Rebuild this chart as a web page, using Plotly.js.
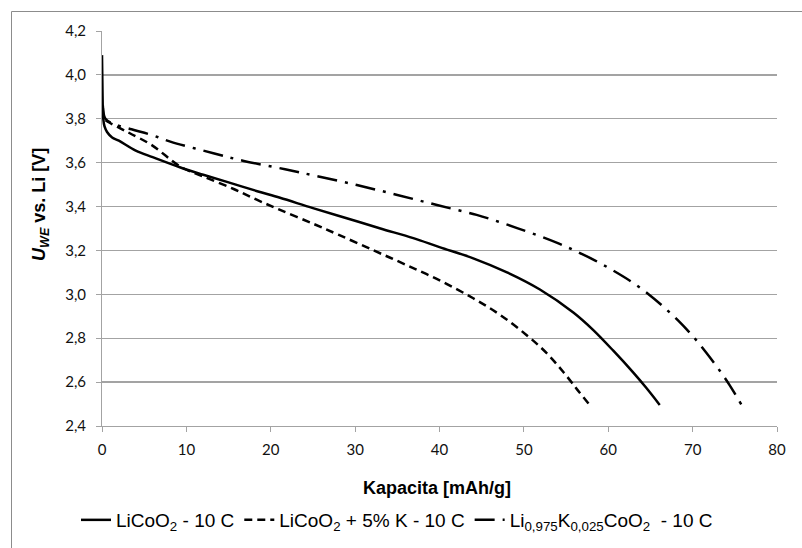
<!DOCTYPE html>
<html>
<head>
<meta charset="utf-8">
<script src="https://cdn.plot.ly/plotly-3.0.1.min.js"></script>
<style>
html,body{margin:0;padding:0;background:#fff;}
#chart{width:802px;height:548px;}
</style>
</head>
<body>
<div id="chart"></div>
<script>
// Series names
const seriesNames = [
  "LiCoO<sub>2</sub> - 10 C",
  "LiCoO<sub>2</sub> + 5% K - 10 C",
  "Li<sub>0,975</sub>K<sub>0,025</sub>CoO<sub>2</sub>  - 10 C"
];

// LiCoO2 - 10 C
const capA = [0, 0.05, 0.15, 0.3, 0.6, 1.2, 2, 4, 6, 9.3, 12, 15, 18.4, 21.1, 25, 29, 33, 36.9, 40, 44, 48, 51.9, 55.9, 58.2, 60.6, 63, 64.5, 66.1];
const voltA = [4.09, 3.95, 3.80, 3.765, 3.74, 3.715, 3.70, 3.655, 3.625, 3.578, 3.545, 3.51, 3.47, 3.44, 3.393, 3.347, 3.30, 3.256, 3.215, 3.164, 3.100, 3.022, 2.916, 2.838, 2.743, 2.642, 2.574, 2.496];

// LiCoO2 + 5% K - 10 C
const capB = [0.1, 0.3, 0.75, 2, 3.3, 5.9, 9.3, 12, 15.6, 18.4, 21.1, 25, 28, 32.2, 36, 40.1, 44, 47.2, 50.3, 52.7, 54.7, 56.3, 57.8];
const voltB = [3.85, 3.80, 3.785, 3.76, 3.734, 3.68, 3.582, 3.537, 3.48, 3.43, 3.385, 3.322, 3.272, 3.20, 3.135, 3.062, 2.982, 2.906, 2.815, 2.732, 2.645, 2.567, 2.496];

// Li0,975K0,025CoO2 - 10 C
const capC = [0.1, 0.4, 1.5, 3.5, 5.9, 8.1, 13.2, 16.8, 21.7, 25.3, 30.2, 35, 39.7, 44.4, 47, 49.2, 51.7, 54.1, 56.1, 58.4, 60.6, 62.8, 64.7, 66.5, 68.3, 70.1, 71.6, 73.2, 74.4, 75.8];
const voltC = [3.86, 3.80, 3.775, 3.752, 3.726, 3.696, 3.643, 3.608, 3.57, 3.54, 3.498, 3.453, 3.407, 3.362, 3.331, 3.302, 3.268, 3.232, 3.198, 3.155, 3.108, 3.056, 3.003, 2.945, 2.880, 2.806, 2.735, 2.653, 2.585, 2.496];

const xTickVals = [0, 10, 20, 30, 40, 50, 60, 70, 80];
const yTickVals = [2.4, 2.6, 2.8, 3.0, 3.2, 3.4, 3.6, 3.8, 4.0, 4.2];

const xTitle = "Kapacita [mAh/g]";
const yTitle = "<i>U</i><sub><i>WE</i></sub> vs. Li [V]";

const grid = "#a3a3a3";
const tickFont = {family: "Lato, 'Open Sans', sans-serif", size: 15, color: "#111"};
const titleFont = {family: "'Liberation Sans', Arial, sans-serif", size: 18, color: "#000"};

const lineCommon = {color: "#000", width: 2.5, shape: "spline", smoothing: 1};
const traces = [
  {x: capA, y: voltA, name: seriesNames[0], mode: "lines",
   line: Object.assign({}, lineCommon)},
  {x: capB, y: voltB, name: seriesNames[1], mode: "lines",
   line: Object.assign({}, lineCommon, {dash: "8px,5px"})},
  {x: capC, y: voltC, name: seriesNames[2], mode: "lines",
   line: Object.assign({}, lineCommon, {dash: "20px,8px,3px,8px"})}
];

// plot area: x 102..777, y 31..426
const L = 102, R = 777, T = 31, B = 426;
const pw = R - L, ph = B - T;
const px = v => (v - L) / pw;
const py = v => (B - v) / ph;

const layout = {
  width: 802, height: 548,
  margin: {l: L, r: 802 - R, t: T, b: 548 - B, pad: 0},
  paper_bgcolor: "#fff", plot_bgcolor: "#fff",
  separators: ", ",
  showlegend: true,
  font: {family: "'Liberation Sans', Arial, sans-serif", color: "#000"},
  xaxis: {
    range: [0, 80], tickvals: xTickVals, ticktext: xTickVals.map(String),
    showgrid: false, zeroline: false,
    showline: true, linecolor: grid, linewidth: 1,
    ticks: "outside", ticklen: 5, tickcolor: grid, tickwidth: 1,
    tickfont: tickFont, ticklabelstandoff: 5,
    automargin: false, fixedrange: true
  },
  yaxis: {
    range: [2.4, 4.2], tickvals: yTickVals, ticktext: yTickVals.map(v => v.toFixed(1).replace(".", ",")),
    showgrid: true, gridcolor: grid, gridwidth: 1.3, zeroline: false,
    showline: true, linecolor: grid, linewidth: 1,
    ticks: "outside", ticklen: 5, tickcolor: grid, tickwidth: 1,
    tickfont: tickFont, ticklabelstandoff: 7,
    automargin: false, fixedrange: true
  },
  annotations: [
    {text: "<b>" + xTitle + "</b>", xref: "paper", yref: "paper",
     x: px(437), y: py(488), xanchor: "center", yanchor: "middle",
     showarrow: false, font: titleFont},
    {text: "<b>" + yTitle + "</b>", xref: "paper", yref: "paper",
     x: px(40), y: py(205), xanchor: "center", yanchor: "middle",
     textangle: -90, showarrow: false, font: titleFont}
  ],
  legend: {
    orientation: "h", xref: "container", yref: "container",
    x: 0.495, xanchor: "center", y: (548 - 520) / 548, yanchor: "middle",
    font: {family: "'Liberation Sans', Arial, sans-serif", size: 19, color: "#000"},
    bgcolor: "rgba(0,0,0,0)", itemwidth: 30, tracegroupgap: 0
  },
  shapes: [
    {type: "rect", xref: "paper", yref: "paper",
     x0: px(11.5), x1: px(840), y0: py(590), y1: py(11.5),
     line: {color: "#8c8c8c", width: 1}, fillcolor: "rgba(0,0,0,0)", layer: "below"}
  ]
};

Plotly.newPlot("chart", traces, layout, {staticPlot: true, displayModeBar: false});
</script>
</body>
</html>
